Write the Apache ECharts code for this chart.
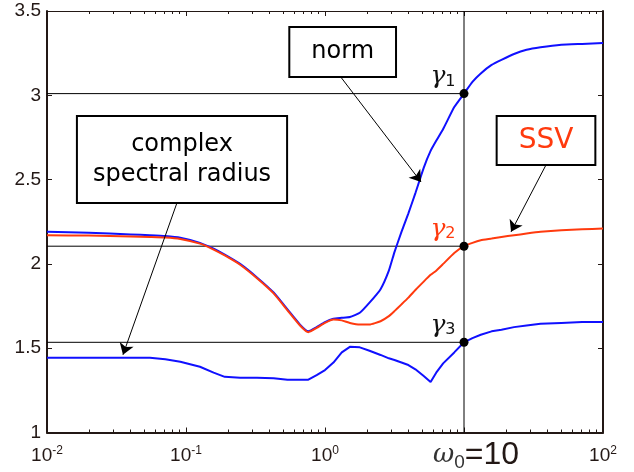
<!DOCTYPE html>
<html lang="en">
<head>
<meta charset="UTF-8">
<title>norm / SSV / complex spectral radius</title>
<script src="https://cdn.jsdelivr.net/npm/echarts@6/dist/echarts.min.js"></script>
<style>
html, body { margin: 0; padding: 0; background: #fff; }
#chart { width: 634px; height: 472px; }
</style>
</head>
<body>
<div id="chart"></div>
<script>
// frequency points
var omega = [0.01, 0.02, 0.04, 0.055, 0.071, 0.091, 0.126, 0.158, 0.19, 0.245,
  0.324, 0.427, 0.537, 0.661, 0.759, 0.871, 1, 1.15, 1.32, 1.51,
  1.78, 2.09, 2.51, 2.88, 3.16, 3.55, 3.98, 4.47, 5.13, 5.75,
  6.31, 7.08, 8.51, 10, 11.5, 13.2, 15.8, 18.6, 22.9, 28.2,
  35.5, 50.1, 70.8, 100];

// upper blue curve ("norm")
var normVals = [2.19, 2.185, 2.175, 2.17, 2.165, 2.155, 2.125, 2.09, 2.055, 2.0,
  1.92, 1.83, 1.73, 1.64, 1.6, 1.625, 1.655, 1.675, 1.68, 1.685,
  1.71, 1.77, 1.85, 1.96, 2.07, 2.19, 2.3, 2.42, 2.57, 2.67,
  2.73, 2.8, 2.93, 3.01, 3.08, 3.13, 3.18, 3.21, 3.245, 3.27,
  3.285, 3.3, 3.305, 3.31];

// red curve (SSV)
var ssvVals = [2.17, 2.168, 2.163, 2.16, 2.157, 2.148, 2.12, 2.085, 2.05, 1.995,
  1.915, 1.825, 1.725, 1.635, 1.595, 1.62, 1.65, 1.67, 1.665, 1.65,
  1.64, 1.64, 1.66, 1.69, 1.72, 1.76, 1.8, 1.845, 1.895, 1.935,
  1.96, 2.0, 2.065, 2.105, 2.125, 2.14, 2.15, 2.16, 2.17, 2.18,
  2.19, 2.2, 2.205, 2.21];

// lower blue curve (complex spectral radius)
var rhoVals = [1.443, 1.443, 1.443, 1.443, 1.435, 1.42, 1.39, 1.355, 1.33, 1.325,
  1.325, 1.322, 1.313, 1.313, 1.313, 1.34, 1.37, 1.415, 1.475, 1.508,
  1.505, 1.485, 1.46, 1.44, 1.43, 1.415, 1.4, 1.375, 1.335, 1.3,
  1.355, 1.41, 1.475, 1.535, 1.56, 1.58, 1.6, 1.61, 1.625, 1.635,
  1.645, 1.65, 1.655, 1.655];

var omega0 = 10;
var gammaVals = [3.01, 2.105, 1.535];
var gammaSubs = ['1', '2', '3'];

var BLUE = '#1010ff';
var RED = '#ff3a0e';
var INK = '#231815';

function pairs(xs, ys) {
  var out = [];
  for (var i = 0; i < xs.length; i++) out.push([xs[i], ys[i]]);
  return out;
}

var gammaLines = gammaVals.map(function (g) {
  return {
    type: 'line', data: [[0.01, g], [omega0, g]], symbol: 'none', silent: true,
    lineStyle: { color: '#000', width: 1 }, z: 2
  };
});

var myChart = echarts.init(document.getElementById('chart'));

var boxLabel = {
  show: true, position: 'inside', opacity: 1,
  backgroundColor: '#fff', borderColor: '#000', borderWidth: 2,
  fontFamily: 'DejaVu Sans', color: '#000', textBorderWidth: 0
};

var option = {
  animation: false,
  backgroundColor: '#fff',
  grid: { left: 47, right: 31, top: 11, bottom: 39 },
  xAxis: [{
    type: 'log', logBase: 10, min: 0.01, max: 100,
    axisLine: { lineStyle: { color: INK, width: 2 } },
    axisTick: { inside: true, length: 5, lineStyle: { color: INK } },
    minorTick: { show: true, splitNumber: 9, length: 3, lineStyle: { color: INK } },
    splitLine: { show: false },
    axisLabel: {
      margin: 23, verticalAlign: 'middle', color: INK,
      formatter: function (v) {
        var e = Math.round(Math.log(v) / Math.LN10);
        if (e === 1) return '{w|ω}{sub|0}{big|=10}';
        return '{n|10}{sup|' + e + '}';
      },
      rich: {
        n: { fontFamily: 'Liberation Sans', fontSize: 19, lineHeight: 22, color: INK },
        sup: { fontFamily: 'Liberation Sans', fontSize: 12, lineHeight: 12, verticalAlign: 'top', color: INK },
        w: { fontFamily: 'DejaVu Serif', fontStyle: 'italic', fontSize: 26, color: '#333', padding: [0, 0, 0, 24] },
        sub: { fontFamily: 'Liberation Sans', fontSize: 19, color: '#333', padding: [14, 0, 0, 0] },
        big: { fontFamily: 'Liberation Sans', fontSize: 32, color: INK }
      }
    }
  }, {
    type: 'log', logBase: 10, min: 0.01, max: 100, position: 'top',
    axisLine: { lineStyle: { color: INK, width: 1 } },
    axisTick: { inside: true, length: 5, lineStyle: { color: INK } },
    minorTick: { show: true, splitNumber: 9, length: 3, lineStyle: { color: INK } },
    axisLabel: { show: false },
    splitLine: { show: false }
  }],
  yAxis: [{
    type: 'value', min: 1, max: 3.5, interval: 0.5,
    axisLine: { show: true, lineStyle: { color: INK, width: 2 } },
    axisTick: { show: true, inside: true, length: 5, lineStyle: { color: INK } },
    splitLine: { show: false },
    axisLabel: { margin: 6, color: INK, fontFamily: 'Liberation Sans', fontSize: 19 }
  }, {
    type: 'value', min: 1, max: 3.5, interval: 0.5, position: 'right',
    axisLine: { show: true, lineStyle: { color: INK, width: 2 } },
    axisTick: { show: true, inside: true, length: 5, lineStyle: { color: INK } },
    splitLine: { show: false },
    axisLabel: { show: false }
  }],
  series: gammaLines.concat([
    {
      type: 'line', data: [[omega0, 1], [omega0, 3.5]], symbol: 'none', silent: true,
      lineStyle: { color: '#000', width: 1 }, z: 2
    },
    {
      name: 'norm', type: 'line', data: pairs(omega, normVals), symbol: 'none',
      smooth: 0.15, lineStyle: { color: BLUE, width: 2 }, z: 3
    },
    {
      name: 'SSV', type: 'line', data: pairs(omega, ssvVals), symbol: 'none',
      smooth: 0.15, lineStyle: { color: RED, width: 2 }, z: 4
    },
    {
      name: 'complex spectral radius', type: 'line', data: pairs(omega, rhoVals), symbol: 'none',
      smooth: false, lineStyle: { color: BLUE, width: 2 }, z: 3
    },
    {
      // gamma points on the omega0 line
      type: 'scatter', symbolSize: 9, z: 6,
      itemStyle: { color: '#000', opacity: 1 },
      data: gammaVals.map(function (g, i) {
        var c = i === 1 ? RED : '#111';
        return {
          value: [omega0, g],
          label: {
            show: true, position: 'left', distance: 4, offset: [0, -17], opacity: 1,
            formatter: '{g|γ}{s|' + gammaSubs[i] + '}',
            rich: {
              g: { fontFamily: 'DejaVu Serif', fontStyle: 'italic', fontSize: 25, color: c },
              s: { fontFamily: 'DejaVu Sans', fontSize: 16, padding: [10, 0, 0, 0], color: c }
            }
          }
        };
      })
    },
    {
      // annotation arrows
      type: 'line', data: [], symbol: 'none', z: 7,
      markLine: {
        silent: true, animation: false,
        symbol: ['none', 'arrow'], symbolSize: 11,
        label: { show: false },
        lineStyle: { color: '#000', width: 1, type: 'solid' },
        data: [
          [{ coord: [1.30, 3.108] }, { coord: [4.91, 2.486] }],
          [{ coord: [38.9, 2.587] }, { coord: [21.8, 2.19] }],
          [{ coord: [0.0861, 2.362] }, { coord: [0.0352, 1.461] }]
        ]
      }
    },
    {
      // annotation boxes
      type: 'scatter', symbolSize: 0, z: 8, silent: true,
      itemStyle: { color: '#000', opacity: 1 },
      label: boxLabel,
      data: [
        { value: [1.34, 3.257], label: { formatter: 'norm', color: '#000', fontSize: 24, lineHeight: 28, padding: [10, 21, 10, 21] } },
        { value: [38.9, 2.732], label: { formatter: 'SSV', color: RED, fontSize: 28, lineHeight: 30, padding: [9, 21, 8, 21] } },
        { value: [0.0936, 2.619], label: { formatter: 'complex\nspectral radius', color: '#000', fontSize: 24, lineHeight: 30, padding: [12, 15, 13, 15] } }
      ]
    }
  ])
};

myChart.setOption(option);
</script>
</body>
</html>
